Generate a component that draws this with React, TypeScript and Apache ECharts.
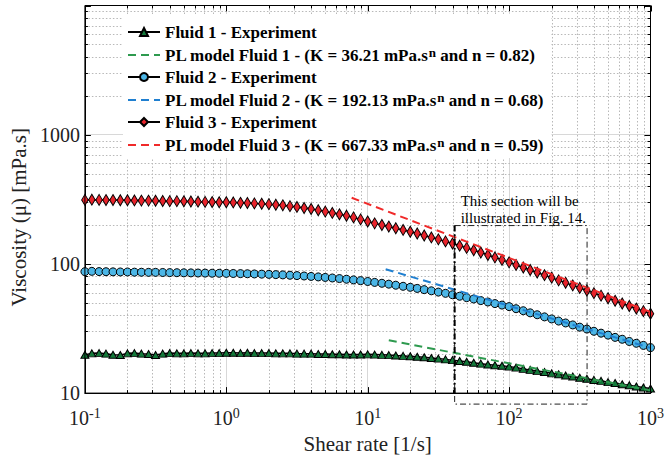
import React, { useEffect, useRef } from "react";
import * as echarts from "echarts";

// Shear rate (1/s) of the measured points
const shearRate = [
  0.1, 0.112, 0.126, 0.141, 0.158, 0.178, 0.2, 0.224, 0.251, 0.282, 0.316, 0.355, 0.398, 0.447, 0.501, 0.562, 0.631, 0.708, 0.794, 0.891,
  1, 1.12, 1.26, 1.41, 1.58, 1.78, 2, 2.24, 2.51, 2.82, 3.16, 3.55, 3.98, 4.47, 5.01, 5.62, 6.31, 7.08, 7.94, 8.91,
  10, 11.2, 12.6, 14.1, 15.8, 17.8, 20, 22.4, 25.1, 28.2, 31.6, 35.5, 39.8, 44.7, 50.1, 56.2, 63.1, 70.8, 79.4, 89.1,
  100, 112, 126, 141, 158, 178, 200, 224, 251, 282, 316, 355, 398, 447, 501, 562, 631, 708, 794, 891, 1000,
];

// Viscosity (mPa.s)
const fluid1 = [
  19.8, 20.3, 20.4, 20.2, 19.8, 19.7, 20.3, 20.4, 20.2, 20.1, 19.7, 20.2, 20.4, 20.3, 20.3, 20.4, 20.3, 20.3, 20.4, 20.4,
  20.5, 20.5, 20.4, 20.5, 20.4, 20.4, 20.4, 20.3, 20.3, 20.3, 20.2, 20.2, 20.2, 20.1, 20.1, 20.0, 20.0, 19.9, 19.9, 19.9,
  19.95, 19.86, 19.77, 19.68, 19.54, 19.41, 19.28, 19.1, 18.92, 18.71, 18.49, 18.24, 17.99, 17.74, 17.46, 17.18, 16.9, 16.67, 16.44, 16.26,
  16.03, 15.75, 15.4, 15.12, 14.8, 14.55, 14.22, 13.98, 13.68, 13.45, 13.15, 12.93, 12.65, 12.44, 12.16, 11.96, 11.7, 11.5, 11.25, 11.06, 10.84,
];
const fluid2 = [
  87.1, 87.6, 87.2, 87.0, 86.8, 86.6, 86.6, 86.3, 86.2, 86.0, 86.0, 85.8, 85.6, 85.5, 85.3, 85.2, 85.0, 84.9, 84.7, 84.6,
  84.5, 84.3, 84.1, 83.9, 83.6, 83.3, 83.0, 82.6, 82.2, 81.7, 81.2, 80.6, 80.0, 79.3, 78.6, 77.8, 77.0, 76.1, 75.2, 74.2,
  73.1, 71.9, 70.8, 69.7, 68.4, 67.1, 65.9, 64.6, 63.2, 61.9, 60.5, 59.2, 57.7, 56.2, 54.8, 53.5, 52.0, 50.7, 49.3, 48.0,
  46.7, 45.0, 43.4, 41.8, 40.4, 38.9, 37.5, 36.1, 34.9, 33.7, 32.4, 31.3, 30.1, 29.1, 28.1, 27.0, 26.1, 25.1, 24.3, 23.4, 22.5,
];
const fluid3 = [
  313, 314, 313, 312, 312, 311, 311, 310, 309, 309, 308, 307, 306, 306, 305, 304, 303, 302, 301, 300,
  300, 299, 297, 296, 294, 292, 290, 287, 284, 280, 276, 271, 266, 260, 254, 248, 242, 236, 229, 221,
  213, 206, 200, 194.5, 188.8, 183.2, 177.4, 171.8, 166, 160.3, 154.9, 149.3, 143.9, 138.4, 133, 127.6, 122.5, 117.2, 112.2, 107.4,
  102.8, 98.2, 93.8, 89.7, 85.7, 81.8, 78.2, 74.6, 71.4, 68.2, 65.2, 62.2, 59.4, 56.8, 54.2, 51.8, 49.4, 47.2, 45.1, 43.1, 41.1,
];

// Power-law model lines (end points)
const pl1X = [14.1, 1000];
const pl1Y = [25.6, 10.5];
const pl2X = [13.4, 1000];
const pl2Y = [91, 22.4];
const pl3X = [7.7, 1000];
const pl3Y = [325, 42.5];

// Highlighted section box
const boxX = [41.2, 356];
const boxTopY = 198;

const seriesNames = [
  "Fluid 1 - Experiment",
  "PL model Fluid 1 - (K = 36.21 mPa.s^n and n = 0.82)",
  "Fluid 2 - Experiment",
  "PL model Fluid 2 - (K = 192.13 mPa.s^n and n = 0.68)",
  "Fluid 3 - Experiment",
  "PL model Fluid 3 - (K = 667.33 mPa.s^n and n = 0.59)",
];

const FONT = "Liberation Serif";

export default function App() {
  const ref = useRef<HTMLDivElement>(null);
  useEffect(() => {
    if (!ref.current) return;
    const chart = echarts.init(ref.current, undefined, { renderer: "svg" });

    const minorX: number[] = [];
    for (const d of [0.1, 1, 10, 100]) for (let m = 2; m <= 9; m++) minorX.push(+(d * m).toPrecision(3));
    const minorY: number[] = [];
    for (const d of [10, 100, 1000]) for (let m = 2; m <= 9; m++) minorY.push(d * m);
    const majorX = [0.1, 1, 10, 100, 1000];
    const majorY = [10, 100, 1000, 10000];

    const tickData: number[][] = [];
    minorX.forEach((v) => tickData.push([v, 100, 0, 0]));
    majorX.forEach((v) => tickData.push([v, 100, 0, 1]));
    minorY.forEach((v) => tickData.push([1, v, 1, 0]));
    majorY.forEach((v) => tickData.push([1, v, 1, 1]));

    const expSeries = (name: string, vals: number[], symbol: string, size: any, color: string) => ({
      name,
      type: "line",
      data: shearRate.map((x, i) => [x, vals[i]]),
      symbol,
      symbolSize: size,
      showAllSymbol: true,
      lineStyle: { color: "#000", width: 1.5 },
      itemStyle: { color, borderColor: "#000", borderWidth: 1 },
      z: 3,
    });
    const plSeries = (name: string, xs: number[], ys: number[], color: string) => ({
      name,
      type: "line",
      data: xs.map((x, i) => [x, ys[i]]),
      symbol: "none",
      lineStyle: { color, width: 2, type: [8, 5] },
      itemStyle: { color },
      z: 4,
    });

    const legendFormatter = (name: string) => {
      if (name.indexOf("^n") >= 0) {
        const parts = name.split("^n");
        return `{t|${parts[0]}}{s|n}{t|${parts[1]}}`;
      }
      return `{t|${name}}`;
    };

    chart.setOption({
      animation: false,
      textStyle: { fontFamily: FONT },
      grid: { left: 83, right: 12, top: 5.5, bottom: 65, show: false },
      legend: {
        data: seriesNames.map((n, i) =>
          i % 2 === 1 ? { name: n, itemStyle: { opacity: 0, borderWidth: 0 } } : { name: n }
        ),
        orient: "vertical",
        left: 123,
        top: 14,
        padding: [10, 8, 4, 4],
        itemGap: 5,
        itemWidth: 32,
        itemHeight: 10,
        backgroundColor: "#fff",
        formatter: legendFormatter,
        textStyle: {
          fontFamily: FONT,
          fontSize: 17,
          fontWeight: "bold",
          rich: {
            t: { fontSize: 17, fontWeight: "bold", fontFamily: FONT, color: "#000", lineHeight: 18, verticalAlign: "bottom" },
            s: { fontSize: 13, fontWeight: "bold", fontFamily: FONT, color: "#000", lineHeight: 12, verticalAlign: "top" },
          },
        },
      },
      xAxis: {
        type: "log",
        logBase: 10,
        min: 0.1,
        max: 1000,
        name: "Shear rate [1/s]",
        nameLocation: "middle",
        nameGap: 39,
        nameTextStyle: { fontSize: 21, fontFamily: FONT, color: "#222" },
        axisLine: { lineStyle: { color: "#000", width: 1 } },
        axisTick: { show: false },
        splitLine: { show: true, lineStyle: { color: "#d8d8d8", width: 1 } },
        axisLabel: {
          margin: 13,
          fontFamily: FONT,
          fontSize: 20,
          formatter: (v: number) => `{b|10}{s|${Math.round(Math.log10(v))}}`,
          rich: {
            b: { fontSize: 20, fontFamily: FONT, color: "#222", lineHeight: 22, verticalAlign: "bottom" },
            s: { fontSize: 14, fontFamily: FONT, color: "#222", lineHeight: 14, verticalAlign: "top" },
          },
        },
      },
      yAxis: {
        type: "log",
        logBase: 10,
        min: 10,
        max: 10000,
        name: "Viscosity (μ) [mPa.s]",
        nameLocation: "middle",
        nameGap: 50,
        nameTextStyle: { fontSize: 21, fontFamily: FONT, color: "#222", padding: [0, 36, 0, 0] },
        axisLine: { lineStyle: { color: "#000", width: 1 } },
        axisTick: { show: false },
        splitLine: { show: true, lineStyle: { color: "#d8d8d8", width: 1 } },
        axisLabel: {
          margin: 5,
          fontSize: 20,
          fontFamily: FONT,
          color: "#222",
          formatter: (v: number) => (Math.round(v) >= 10000 ? "" : String(Math.round(v))),
        },
      },
      series: [
        {
          name: "ticks",
          type: "custom",
          silent: true,
          z: 1,
          encode: { x: 0, y: 1 },
          data: tickData,
          renderItem: (params: any, api: any) => {
            const cs = params.coordSys;
            const kind = api.value(2);
            const major = api.value(3);
            const len = major ? 6 : 3;
            const children: any[] = [];
            const tick = { stroke: "#000", lineWidth: 1 };
            if (kind === 0) {
              const px = Math.round(api.coord([api.value(0), 100])[0]) + 0.5;
              if (!major)
                children.push({ type: "line", shape: { x1: px, y1: cs.y, x2: px, y2: cs.y + cs.height }, style: { stroke: "#b8b8b8", lineWidth: 1, lineDash: [1.5, 2] } });
              children.push({ type: "line", shape: { x1: px, y1: cs.y + cs.height, x2: px, y2: cs.y + cs.height - len }, style: tick });
              children.push({ type: "line", shape: { x1: px, y1: cs.y, x2: px, y2: cs.y + len }, style: tick });
            } else {
              const py = Math.round(api.coord([1, api.value(1)])[1]) + 0.5;
              if (!major)
                children.push({ type: "line", shape: { x1: cs.x, y1: py, x2: cs.x + cs.width, y2: py }, style: { stroke: "#b8b8b8", lineWidth: 1, lineDash: [1.5, 2] } });
              children.push({ type: "line", shape: { x1: cs.x, y1: py, x2: cs.x + len, y2: py }, style: tick });
              children.push({ type: "line", shape: { x1: cs.x + cs.width, y1: py, x2: cs.x + cs.width - len, y2: py }, style: tick });
            }
            return { type: "group", children };
          },
        },
        expSeries(seriesNames[0], fluid1, "triangle", [8, 7], "#13793a"),
        plSeries(seriesNames[1], pl1X, pl1Y, "#2e9a4f"),
        expSeries(seriesNames[2], fluid2, "circle", 8, "#4cb6e6"),
        plSeries(seriesNames[3], pl2X, pl2Y, "#1f7fd0"),
        expSeries(seriesNames[4], fluid3, "diamond", [6.5, 11], "#e8232b"),
        plSeries(seriesNames[5], pl3X, pl3Y, "#f02a2a"),
      ],
    });

    // Grid frame and section annotation
    const tl = chart.convertToPixel({ xAxisIndex: 0, yAxisIndex: 0 }, [0.1, 10000]) as number[];
    const br = chart.convertToPixel({ xAxisIndex: 0, yAxisIndex: 0 }, [1000, 10]) as number[];
    const p1 = chart.convertToPixel({ xAxisIndex: 0, yAxisIndex: 0 }, [boxX[0], boxTopY]) as number[];
    const p2 = chart.convertToPixel({ xAxisIndex: 0, yAxisIndex: 0 }, [boxX[1], boxTopY]) as number[];
    const yBot = br[1] + 11;
    const dashDot = [6, 3, 1.5, 3];
    chart.setOption({
      graphic: [
        { type: "rect", z: 10, silent: true, shape: { x: tl[0], y: tl[1], width: br[0] - tl[0], height: br[1] - tl[1] }, style: { fill: "none", stroke: "#000", lineWidth: 1 } },
        {
          type: "polyline",
          z: 10,
          silent: true,
          shape: { points: [[p1[0], p1[1]], [p2[0], p1[1]], [p2[0], yBot], [p1[0], yBot], [p1[0], p1[1]]] },
          style: { fill: "none", stroke: "#222", lineWidth: 1, lineDash: dashDot },
        },
        { type: "line", z: 10, silent: true, shape: { x1: p1[0], y1: p1[1], x2: p1[0], y2: br[1] }, style: { stroke: "#000", lineWidth: 2, lineDash: dashDot } },
        { type: "text", z: 10, silent: true, x: p1[0] + 6, y: p1[1] - 25, style: { text: "This section will be", font: `15px ${FONT}`, fill: "#000", verticalAlign: "middle" } },
        { type: "text", z: 10, silent: true, x: p1[0] + 6, y: p1[1] - 8, style: { text: "illustrated in Fig. 14.", font: `15px ${FONT}`, fill: "#000", verticalAlign: "middle" } },
      ],
    });

    return () => chart.dispose();
  }, []);
  return <div ref={ref} style={{ position: "fixed", left: 0, top: 0, width: 667, height: 459, background: "#fff" }} />;
}
